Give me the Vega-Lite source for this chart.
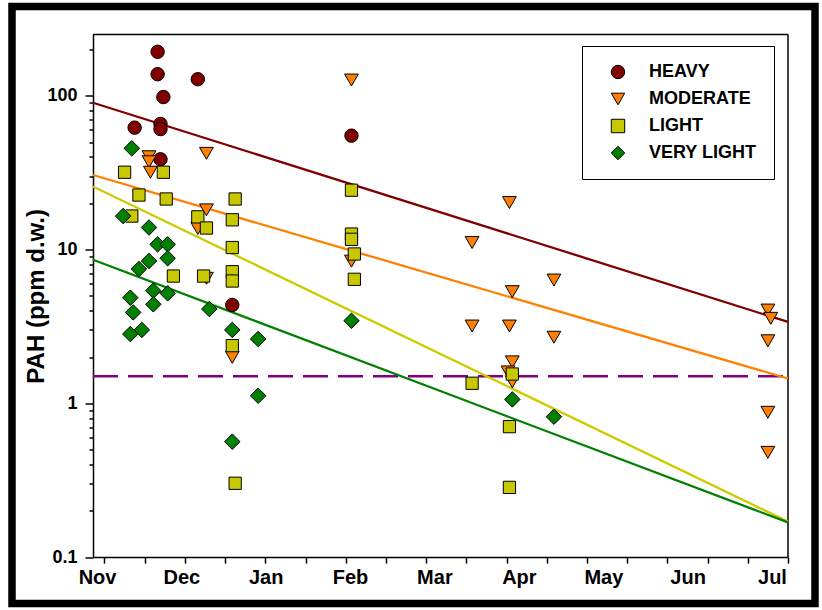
{
  "$schema": "https://vega.github.io/schema/vega-lite/v6.json",
  "width": 803,
  "height": 597,
  "autosize": {"type": "none"},
  "padding": {"left": 12, "top": 6.5, "right": 7, "bottom": 6.5},
  "background": "white",
  "config": {
    "view": {"stroke": "black", "strokeWidth": 7.5},
    "font": "Liberation Sans"
  },
  "datasets": {
    "points": [
      {"g": "HEAVY", "d": "2000-11-23T12:00", "v": 193},
      {"g": "HEAVY", "d": "2000-11-23T12:00", "v": 138},
      {"g": "HEAVY", "d": "2000-12-07T12:00", "v": 128},
      {"g": "HEAVY", "d": "2000-11-25T12:00", "v": 98},
      {"g": "HEAVY", "d": "2000-11-15T12:00", "v": 62},
      {"g": "HEAVY", "d": "2000-11-24T12:00", "v": 65.5},
      {"g": "HEAVY", "d": "2000-11-24T12:00", "v": 60.7},
      {"g": "HEAVY", "d": "2000-11-24T12:00", "v": 38.6},
      {"g": "HEAVY", "d": "2000-12-19T12:00", "v": 4.36},
      {"g": "HEAVY", "d": "2001-01-30T00:00", "v": 55},
      {"g": "MODERATE", "d": "2000-11-20T12:00", "v": 40.1},
      {"g": "MODERATE", "d": "2000-11-20T12:00", "v": 37.2},
      {"g": "MODERATE", "d": "2000-11-21T00:00", "v": 31.8},
      {"g": "MODERATE", "d": "2000-12-10T12:00", "v": 42.2},
      {"g": "MODERATE", "d": "2000-12-10T12:00", "v": 18.1},
      {"g": "MODERATE", "d": "2000-12-10T12:00", "v": 6.5},
      {"g": "MODERATE", "d": "2000-12-07T12:00", "v": 13.7},
      {"g": "MODERATE", "d": "2000-12-19T12:00", "v": 1.99},
      {"g": "MODERATE", "d": "2001-01-30T00:00", "v": 126.5},
      {"g": "MODERATE", "d": "2001-01-30T00:00", "v": 8.4},
      {"g": "MODERATE", "d": "2001-03-13T00:00", "v": 11.1},
      {"g": "MODERATE", "d": "2001-03-13T00:00", "v": 3.18},
      {"g": "MODERATE", "d": "2001-03-26T00:00", "v": 20.2},
      {"g": "MODERATE", "d": "2001-03-26T00:00", "v": 3.18},
      {"g": "MODERATE", "d": "2001-03-27T00:00", "v": 5.32},
      {"g": "MODERATE", "d": "2001-03-27T00:00", "v": 1.86},
      {"g": "MODERATE", "d": "2001-03-25T12:00", "v": 1.6},
      {"g": "MODERATE", "d": "2001-03-27T00:00", "v": 1.38},
      {"g": "MODERATE", "d": "2001-04-10T12:00", "v": 6.33},
      {"g": "MODERATE", "d": "2001-04-10T12:00", "v": 2.69},
      {"g": "MODERATE", "d": "2001-06-24T00:00", "v": 4.04},
      {"g": "MODERATE", "d": "2001-06-25T00:00", "v": 3.57},
      {"g": "MODERATE", "d": "2001-06-24T00:00", "v": 2.55},
      {"g": "MODERATE", "d": "2001-06-24T00:00", "v": 0.874},
      {"g": "MODERATE", "d": "2001-06-24T00:00", "v": 0.48},
      {"g": "LIGHT", "d": "2000-11-12T00:00", "v": 31.8},
      {"g": "LIGHT", "d": "2000-11-25T12:00", "v": 31.8},
      {"g": "LIGHT", "d": "2000-11-17T00:00", "v": 22.6},
      {"g": "LIGHT", "d": "2000-11-26T12:00", "v": 21.3},
      {"g": "LIGHT", "d": "2000-12-20T12:00", "v": 21.3},
      {"g": "LIGHT", "d": "2000-11-14T12:00", "v": 16.5},
      {"g": "LIGHT", "d": "2000-12-07T12:00", "v": 16.3},
      {"g": "LIGHT", "d": "2000-12-19T12:00", "v": 15.6},
      {"g": "LIGHT", "d": "2000-12-10T12:00", "v": 13.8},
      {"g": "LIGHT", "d": "2000-12-19T12:00", "v": 10.3},
      {"g": "LIGHT", "d": "2000-11-29T00:00", "v": 6.72},
      {"g": "LIGHT", "d": "2000-12-09T12:00", "v": 6.72},
      {"g": "LIGHT", "d": "2000-12-19T12:00", "v": 7.17},
      {"g": "LIGHT", "d": "2000-12-19T12:00", "v": 6.24},
      {"g": "LIGHT", "d": "2000-12-19T12:00", "v": 2.37},
      {"g": "LIGHT", "d": "2000-12-20T12:00", "v": 0.302},
      {"g": "LIGHT", "d": "2001-01-30T00:00", "v": 24.3},
      {"g": "LIGHT", "d": "2001-01-30T00:00", "v": 12.6},
      {"g": "LIGHT", "d": "2001-01-30T00:00", "v": 11.65},
      {"g": "LIGHT", "d": "2001-01-31T00:00", "v": 9.35},
      {"g": "LIGHT", "d": "2001-01-31T00:00", "v": 6.4},
      {"g": "LIGHT", "d": "2001-03-13T00:00", "v": 1.35},
      {"g": "LIGHT", "d": "2001-03-27T00:00", "v": 1.55},
      {"g": "LIGHT", "d": "2001-03-26T00:00", "v": 0.705},
      {"g": "LIGHT", "d": "2001-03-26T00:00", "v": 0.284},
      {"g": "VERY LIGHT", "d": "2000-11-14T12:00", "v": 45.5},
      {"g": "VERY LIGHT", "d": "2000-11-11T12:00", "v": 16.5},
      {"g": "VERY LIGHT", "d": "2000-11-20T12:00", "v": 13.9},
      {"g": "VERY LIGHT", "d": "2000-11-23T12:00", "v": 10.8},
      {"g": "VERY LIGHT", "d": "2000-11-27T00:00", "v": 10.8},
      {"g": "VERY LIGHT", "d": "2000-11-20T12:00", "v": 8.42},
      {"g": "VERY LIGHT", "d": "2000-11-27T00:00", "v": 8.77},
      {"g": "VERY LIGHT", "d": "2000-11-17T00:00", "v": 7.47},
      {"g": "VERY LIGHT", "d": "2000-11-22T00:00", "v": 5.4},
      {"g": "VERY LIGHT", "d": "2000-11-27T00:00", "v": 5.19},
      {"g": "VERY LIGHT", "d": "2000-11-14T00:00", "v": 4.86},
      {"g": "VERY LIGHT", "d": "2000-11-22T00:00", "v": 4.4},
      {"g": "VERY LIGHT", "d": "2000-11-15T00:00", "v": 3.9},
      {"g": "VERY LIGHT", "d": "2000-12-11T12:00", "v": 4.1},
      {"g": "VERY LIGHT", "d": "2000-11-14T00:00", "v": 2.82},
      {"g": "VERY LIGHT", "d": "2000-11-18T00:00", "v": 3.0},
      {"g": "VERY LIGHT", "d": "2000-12-19T12:00", "v": 3.0},
      {"g": "VERY LIGHT", "d": "2000-12-28T12:00", "v": 2.62},
      {"g": "VERY LIGHT", "d": "2000-12-28T12:00", "v": 1.12},
      {"g": "VERY LIGHT", "d": "2000-12-19T12:00", "v": 0.563},
      {"g": "VERY LIGHT", "d": "2001-01-30T00:00", "v": 3.44},
      {"g": "VERY LIGHT", "d": "2001-03-27T00:00", "v": 1.06},
      {"g": "VERY LIGHT", "d": "2001-04-10T12:00", "v": 0.818}
    ],
    "fits": [
      {"series": "HEAVY", "d": "2000-11-01T00:00", "v": 90},
      {"series": "HEAVY", "d": "2001-07-01T00:00", "v": 3.38},
      {"series": "MODERATE", "d": "2000-11-01T00:00", "v": 30.5},
      {"series": "MODERATE", "d": "2001-07-01T00:00", "v": 1.45},
      {"series": "LIGHT", "d": "2000-11-01T00:00", "v": 25.7},
      {"series": "LIGHT", "d": "2001-07-01T00:00", "v": 0.17},
      {"series": "VERY LIGHT", "d": "2000-11-01T00:00", "v": 8.58},
      {"series": "VERY LIGHT", "d": "2001-07-01T00:00", "v": 0.168}
    ]
  },
  "layer": [
    {
      "data": {"values": [{}]},
      "mark": {"type": "rule", "color": "black", "strokeWidth": 1.5},
      "encoding": {
        "x": {"datum": {"year": 2000, "month": 11, "date": 1}, "type": "temporal"},
        "x2": {"datum": {"year": 2001, "month": 7, "date": 1}},
        "y": {"datum": 250, "type": "quantitative"}
      }
    },
    {
      "data": {"values": [{}]},
      "mark": {"type": "rule", "color": "black", "strokeWidth": 1.5},
      "encoding": {
        "x": {"datum": {"year": 2001, "month": 7, "date": 1}, "type": "temporal"},
        "y": {"datum": 0.1, "type": "quantitative"},
        "y2": {"datum": 250}
      }
    },
    {
      "data": {"values": [{}]},
      "mark": {"type": "rule", "color": "#800080", "strokeWidth": 2.5, "strokeDash": [25, 10]},
      "encoding": {
        "x": {"datum": {"year": 2000, "month": 11, "date": 1}, "type": "temporal"},
        "x2": {"datum": {"year": 2001, "month": 7, "date": 1}},
        "y": {"datum": 1.5, "type": "quantitative"}
      }
    },
    {
      "data": {"name": "fits"},
      "mark": {"type": "line", "strokeWidth": 2.3},
      "encoding": {
        "x": {"field": "d", "type": "temporal"},
        "y": {"field": "v", "type": "quantitative"},
        "detail": {"field": "series"},
        "stroke": {
          "field": "series",
          "scale": {"domain": ["VERY LIGHT", "LIGHT", "MODERATE", "HEAVY"], "range": ["#008000", "#CCCC00", "#FF8000", "#800000"]},
          "legend": null
        }
      }
    },
    {
      "data": {"name": "points"},
      "mark": {"type": "point", "filled": true, "stroke": "black", "strokeWidth": 1, "opacity": 1},
      "encoding": {
        "x": {
          "field": "d",
          "type": "temporal",
          "scale": {"domain": [{"year": 2000, "month": 11, "date": 1}, {"year": 2001, "month": 7, "date": 1}], "range": [81, 776], "nice": false},
          "axis": {
            "title": null,
            "grid": false,
            "offset": -46.4,
            "tickCount": 100,
            "values": [
              {"year": 2000, "month": 11, "date": 2, "hours": 10},
              {"year": 2000, "month": 12, "date": 1, "hours": 18},
              {"year": 2000, "month": 12, "date": 31, "hours": 3},
              {"year": 2001, "month": 1, "date": 29, "hours": 12},
              {"year": 2001, "month": 2, "date": 27, "hours": 21},
              {"year": 2001, "month": 3, "date": 29, "hours": 7},
              {"year": 2001, "month": 4, "date": 27, "hours": 17},
              {"year": 2001, "month": 5, "date": 27, "hours": 1},
              {"year": 2001, "month": 6, "date": 25, "hours": 10},
              {"year": 2000, "month": 11, "date": 5}, {"year": 2000, "month": 11, "date": 19},
              {"year": 2000, "month": 12, "date": 3}, {"year": 2000, "month": 12, "date": 17}, {"year": 2000, "month": 12, "date": 31},
              {"year": 2001, "month": 1, "date": 14}, {"year": 2001, "month": 1, "date": 28},
              {"year": 2001, "month": 2, "date": 11}, {"year": 2001, "month": 2, "date": 25},
              {"year": 2001, "month": 3, "date": 11}, {"year": 2001, "month": 3, "date": 25},
              {"year": 2001, "month": 4, "date": 8}, {"year": 2001, "month": 4, "date": 22},
              {"year": 2001, "month": 5, "date": 6}, {"year": 2001, "month": 5, "date": 20},
              {"year": 2001, "month": 6, "date": 3}, {"year": 2001, "month": 6, "date": 17},
              {"year": 2001, "month": 7, "date": 1}
            ],
            "labelExpr": "hours(datum.value) > 0 ? timeFormat(time(datum.value) + 16 * 86400000, '%b') : ''",
            "tickSize": {"condition": {"test": "hours(datum.value) > 0", "value": 0}, "value": 6},
            "labelOverlap": false,
            "labelFlush": false,
            "domainColor": "black",
            "domainWidth": 1.5,
            "tickColor": "black",
            "tickWidth": 1.5,
            "labelFontWeight": "bold",
            "labelFontSize": 20,
            "labelColor": "black",
            "labelPadding": 10
          }
        },
        "y": {
          "field": "v",
          "type": "quantitative",
          "scale": {"type": "log", "domain": [0.1, 250], "range": [550.6, 28], "nice": false},
          "axis": {
            "title": "PAH (ppm d.w.)",
            "titleFontSize": 24,
            "titleFontWeight": "bold",
            "titleColor": "black",
            "titlePadding": -2,
            "grid": false,
            "offset": -81,
            "tickCount": 100,
            "values": [0.1, 0.2, 0.3, 0.4, 0.5, 0.6, 0.7, 0.8, 0.9, 1, 2, 3, 4, 5, 6, 7, 8, 9, 10, 20, 30, 40, 50, 60, 70, 80, 90, 100, 200],
            "labelExpr": "indexof([0.1, 1, 10, 100], datum.value) >= 0 ? '' + datum.value : ''",
            "tickSize": {"condition": {"test": "indexof([0.1, 1, 10, 100], datum.value) >= 0", "value": 8}, "value": 4},
            "labelOverlap": false,
            "labelFlush": false,
            "domainColor": "black",
            "domainWidth": 1.5,
            "tickColor": "black",
            "tickWidth": 1.5,
            "labelFontWeight": "bold",
            "labelFontSize": 18,
            "labelColor": "black",
            "labelPadding": 8
          }
        },
        "size": {
          "field": "g",
          "scale": {"type": "ordinal", "domain": ["VERY LIGHT", "HEAVY", "MODERATE", "LIGHT"], "range": [240, 180, 190, 150]},
          "legend": null
        },
        "color": {
          "field": "g",
          "title": null,
          "scale": {"domain": ["HEAVY", "MODERATE", "LIGHT", "VERY LIGHT"], "range": ["#800000", "#FF8000", "#C8C800", "#008000"]},
          "legend": {
            "orient": "none",
            "legendX": 570,
            "legendY": 39.5,
            "strokeColor": "black",
            "fillColor": "white",
            "padding": 17,
            "rowPadding": 9,
            "labelFontSize": 18,
            "labelFontWeight": "bold",
            "labelColor": "black",
            "symbolSize": 180,
            "symbolStrokeColor": "black",
            "symbolStrokeWidth": 1,
            "symbolOffset": 10,
            "labelOffset": 22
          }
        },
        "shape": {
          "field": "g",
          "title": null,
          "scale": {"domain": ["HEAVY", "MODERATE", "LIGHT", "VERY LIGHT"], "range": ["circle", "triangle-down", "square", "diamond"]},
          "legend": {
            "orient": "none",
            "legendX": 570,
            "legendY": 39.5,
            "strokeColor": "black",
            "fillColor": "white",
            "padding": 17,
            "rowPadding": 9,
            "labelFontSize": 18,
            "labelFontWeight": "bold",
            "labelColor": "black",
            "symbolSize": 180,
            "symbolStrokeColor": "black",
            "symbolStrokeWidth": 1,
            "symbolOffset": 10,
            "labelOffset": 22
          }
        }
      }
    }
  ]
}
